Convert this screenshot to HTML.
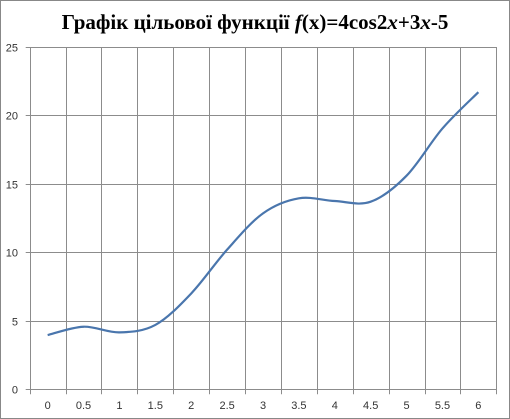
<!DOCTYPE html>
<html><head><meta charset="utf-8"><style>
html,body{margin:0;padding:0;background:#fff;}
svg{display:block;}
</style></head><body>
<svg id="chart" width="510" height="419" xmlns="http://www.w3.org/2000/svg">
<rect x="0.5" y="0.5" width="509" height="418" fill="#fff" stroke="#888"/>
<text x="255" y="29" text-anchor="middle" font-family="Liberation Serif, serif" font-weight="bold" font-size="21">Графік  цільової  функції <tspan font-style="italic">f</tspan>(x)=4cos2<tspan font-style="italic">x</tspan>+3<tspan font-style="italic">x</tspan>-5</text>
<g id="grid"></g><g id="labels"></g><path id="line" fill="none" stroke="#4a76ad" stroke-width="2.2"/>
</svg>
<script>
const categories=["0","0.5","1","1.5","2","2.5","3","3.5","4","4.5","5","5.5","6"];
const values=[3.96,4.57,4.16,4.7,7.0,10.2,12.85,13.95,13.75,13.7,15.6,19.05,21.7];
const yTicks=[0,5,10,15,20,25];
const NS="http://www.w3.org/2000/svg";
const L=29.7,R=496.3,T=47,B=389.3,YMAX=25;
const cw=(R-L)/categories.length;
function xs(i){return L+cw*(i+0.5);}
function ys(v){return B-(v/YMAX)*(B-T);}
const grid=document.getElementById('grid'),lab=document.getElementById('labels');
function ln(x1,y1,x2,y2){const l=document.createElementNS(NS,'line');l.setAttribute('x1',x1);l.setAttribute('y1',y1);l.setAttribute('x2',x2);l.setAttribute('y2',y2);l.setAttribute('stroke','#8c8c8c');l.setAttribute('stroke-width','1');grid.appendChild(l);return l;}
yTicks.forEach(t=>{const y=Math.round(ys(t))+0.5;const l=ln(L-4,y,R,y);


const tx=document.createElementNS(NS,'text');tx.setAttribute('x',18);tx.setAttribute('y',y+4);tx.setAttribute('text-anchor','end');tx.setAttribute('font-family','Liberation Sans, sans-serif');tx.setAttribute('font-size','11');tx.setAttribute('fill','#333');tx.textContent=t;


lab.appendChild(tx);});
for(let i=0;i<=categories.length;i++){const x=Math.round(L+cw*i)+0.5;const l=ln(x,T,x,B+5);

}
categories.forEach((c,i)=>{const tx=document.createElementNS(NS,'text');tx.setAttribute('x',xs(i));tx.setAttribute('y',409);tx.setAttribute('text-anchor','middle');tx.setAttribute('font-family','Liberation Sans, sans-serif');tx.setAttribute('font-size','11');tx.setAttribute('fill','#333');tx.textContent=c;


lab.appendChild(tx);});
const pts=values.map((v,i)=>[xs(i),ys(v)]);
let d='M'+pts[0][0]+','+pts[0][1];
for(let i=0;i<pts.length-1;i++){const p0=pts[Math.max(0,i-1)],p1=pts[i],p2=pts[i+1],p3=pts[Math.min(pts.length-1,i+2)];
const c1=[p1[0]+(p2[0]-p0[0])/6,p1[1]+(p2[1]-p0[1])/6],c2=[p2[0]-(p3[0]-p1[0])/6,p2[1]-(p3[1]-p1[1])/6];
d+=` C${c1[0]},${c1[1]} ${c2[0]},${c2[1]} ${p2[0]},${p2[1]}`;}
document.getElementById('line').setAttribute('d',d);
</script>
</body></html>
